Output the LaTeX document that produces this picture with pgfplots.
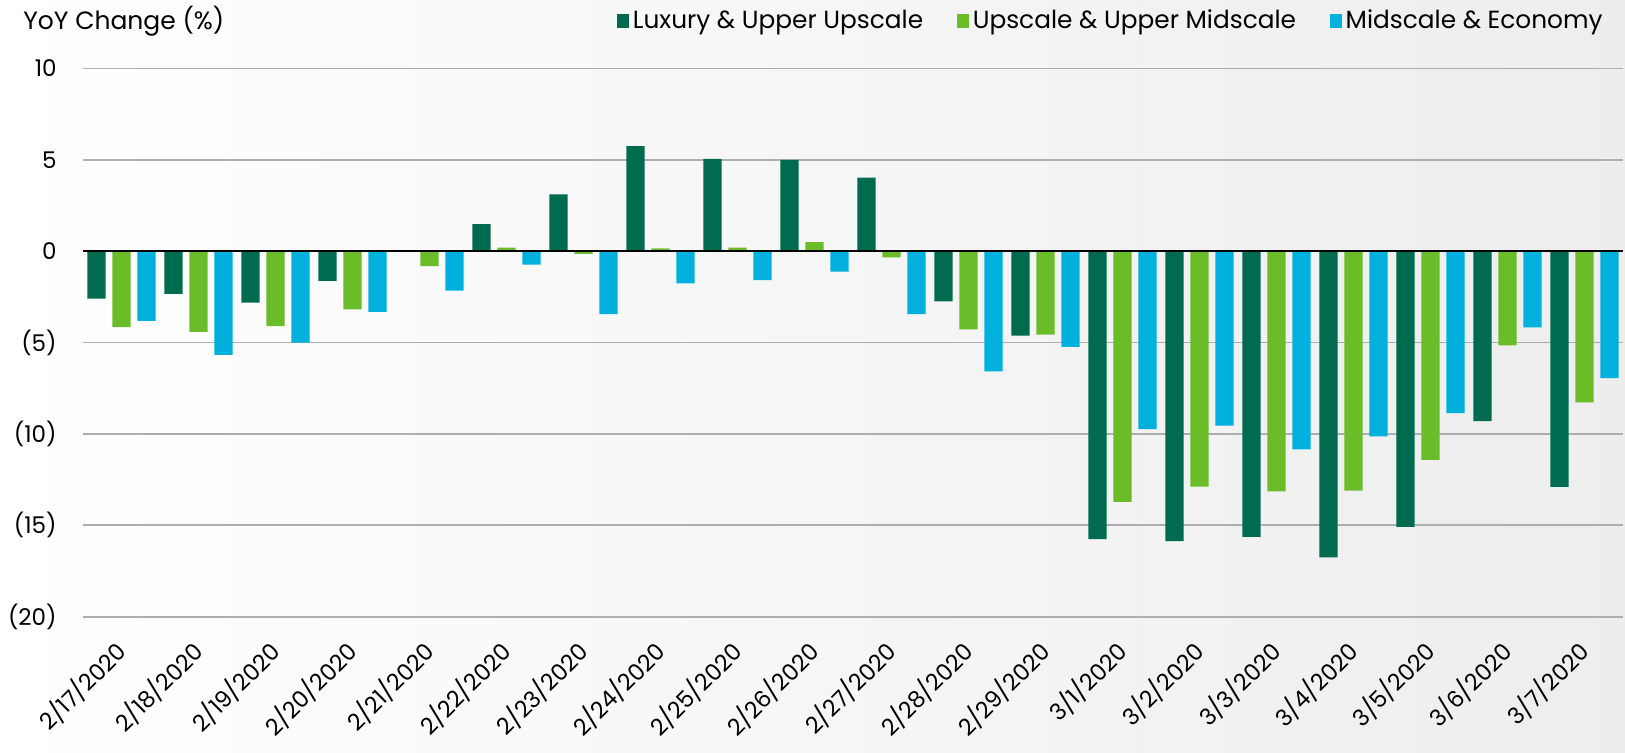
\documentclass[border=0pt]{standalone}
\usepackage{pgfplots}
\pgfplotsset{compat=1.18}
\usepackage{fontspec}
\setmainfont{Poppins}
\definecolor{cLux}{RGB}{0,107,79}
\definecolor{cUps}{RGB}{106,189,40}
\definecolor{cMid}{RGB}{0,177,221}
\definecolor{cGrid}{RGB}{172,174,178}
\pgfplotsset{
  mybar/.style={ybar, bar width=0.238, draw=none,
    legend image code/.code={\fill[##1] (0pt,-3.3pt) rectangle (5.8pt,3.3pt);}},
}
\begin{document}
\begin{tikzpicture}
\useasboundingbox (0pt,0pt) rectangle (812.5pt,376pt);
\shade[left color=white, right color=black!7] (0pt,0pt) rectangle (812.5pt,376pt);
\begin{axis}[
  at={(41.5pt,67.65pt)}, anchor=south west,
  scale only axis, width=770pt, height=274.15pt,
  ymin=-20, ymax=10, xmin=-0.5, xmax=19.5,
  clip=false,
  axis line style={draw=none},
  major tick length=0pt,
  ytick={-20,-15,...,10},
  yticklabels={(20),(15),(10),(5),0,5,10},
  ymajorgrids, grid style={cGrid, line width=0.9pt},
  yticklabel style={font=\fontsize{11.5}{13}\selectfont, anchor=east, inner sep=0pt, xshift=-13pt},
  xtick={0,...,19},
  xticklabels={2/17/2020,2/18/2020,2/19/2020,2/20/2020,2/21/2020,2/22/2020,2/23/2020,2/24/2020,2/25/2020,2/26/2020,2/27/2020,2/28/2020,2/29/2020,3/1/2020,3/2/2020,3/3/2020,3/4/2020,3/5/2020,3/6/2020,3/7/2020},
  xticklabel style={font=\fontsize{11.5}{13}\selectfont, xshift=-4.5pt, yshift=-10.5pt, rotate=45, anchor=north east, inner sep=0pt},
  legend columns=3,
  legend style={draw=none, fill=none, inner sep=0pt, at={(rel axis cs:1,1)}, anchor=east,
    xshift=-10pt, yshift=23.7pt, font=\fontsize{12.4}{14}\selectfont,
    nodes={inner sep=0pt}, column sep=2pt,
    /tikz/every even column/.append style={column sep=17pt}},
]
\addplot[mybar, fill=cLux, bar shift=-0.325] coordinates {
(0,-2.6) (1,-2.33) (2,-2.82) (3,-1.63) (4,0) (5,1.48) (6,3.11) (7,5.75) (8,5.05) (9,5.0)
(10,4.03) (11,-2.75) (12,-4.62) (13,-15.75) (14,-15.87) (15,-15.63) (16,-16.75) (17,-15.08) (18,-9.3) (19,-12.9)};
\addplot[mybar, fill=cUps, bar shift=0] coordinates {
(0,-4.16) (1,-4.41) (2,-4.1) (3,-3.19) (4,-0.82) (5,0.2) (6,-0.15) (7,0.16) (8,0.2) (9,0.49)
(10,-0.34) (11,-4.28) (12,-4.56) (13,-13.72) (14,-12.88) (15,-13.14) (16,-13.1) (17,-11.42) (18,-5.15) (19,-8.27)};
\addplot[mybar, fill=cMid, bar shift=0.325] coordinates {
(0,-3.81) (1,-5.68) (2,-5.0) (3,-3.32) (4,-2.16) (5,-0.73) (6,-3.44) (7,-1.76) (8,-1.58) (9,-1.12)
(10,-3.44) (11,-6.57) (12,-5.23) (13,-9.74) (14,-9.54) (15,-10.84) (16,-10.13) (17,-8.86) (18,-4.17) (19,-6.94)};
\legend{Luxury \& Upper Upscale, Upscale \& Upper Midscale, Midscale \& Economy}
\draw[black, line width=1pt] (rel axis cs:0,0.6667) -- (rel axis cs:1,0.6667);
\node[anchor=west, inner sep=0pt, font=\fontsize{12.5}{14}\selectfont] at (rel axis cs:0,1) [xshift=-30pt, yshift=23.7pt] {YoY Change (\%)};
\end{axis}
\end{tikzpicture}
\end{document}
